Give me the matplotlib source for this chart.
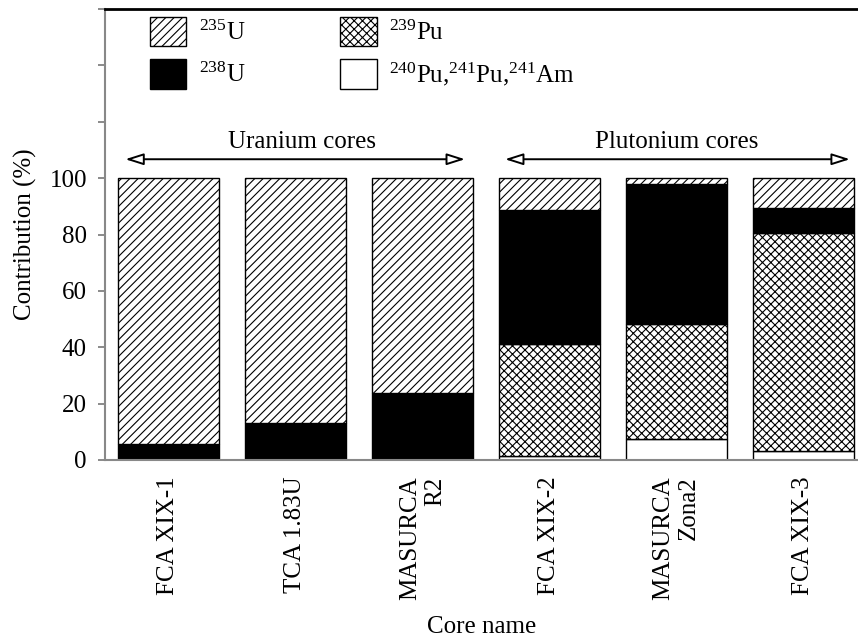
import matplotlib
matplotlib.use('Agg')
import matplotlib.pyplot as plt
from matplotlib.patches import Patch
import numpy as np

plt.rcParams['font.family'] = ['Liberation Serif', 'DejaVu Serif']
plt.rcParams['mathtext.fontset'] = 'custom'
plt.rcParams['mathtext.rm'] = 'Liberation Serif'
plt.rcParams['mathtext.it'] = 'Liberation Serif:italic'
plt.rcParams['hatch.linewidth'] = 0.8

cores = ['FCA XIX-1', 'TCA 1.83U', 'MASURCA\nR2', 'FCA XIX-2', 'MASURCA\nZona2', 'FCA XIX-3']
# contributions (%) stacked from the bottom up
other = [0, 0, 0, 1.4, 7.3, 3.3]          # 240Pu, 241Pu, 241Am
pu239 = [0, 0, 0, 39.8, 41.0, 77.4]
u238 = [5.5, 13.3, 23.9, 47.4, 49.5, 8.8]
u235 = [94.5, 86.7, 76.1, 11.4, 2.2, 10.5]

yticks = [0, 20, 40, 60, 80, 100, 120, 140, 160]
ytick_labels = ['0', '20', '40', '60', '80', '100', '', '', '']

groups = ['Uranium cores', 'Plutonium cores']

fig = plt.figure(figsize=(8.58, 6.43), dpi=100)
ax = fig.add_axes([105 / 858, 1 - 460 / 643, 753 / 858, 451 / 643])

x = np.arange(len(cores))
w = 0.8
bottom = np.zeros(len(cores))
layers = [
    (other, dict(facecolor='white', hatch=None)),
    (pu239, dict(facecolor='white', hatch='xxxx')),
    (u238, dict(facecolor='black', hatch=None)),
    (u235, dict(facecolor='white', hatch='////')),
]
for vals, style in layers:
    vals = np.array(vals, dtype=float)
    ax.bar(x, vals, w, bottom=bottom, edgecolor='black', linewidth=1.0, **style)
    bottom += vals

ax.set_xlim(-0.5, 5.43)
ax.set_ylim(0, 160)
ax.set_yticks(yticks)
ax.set_yticklabels(ytick_labels, fontsize=18)
ax.set_xticks(x)
ax.set_xticklabels(cores, rotation=90, fontsize=18, va='top', ha='center',
                   multialignment='right')
ax.tick_params(axis='x', length=0, pad=12)
ax.tick_params(axis='y', length=5, width=1.2, color='#777777', pad=8)

ax.spines['right'].set_visible(False)
ax.spines['top'].set_color('black')
ax.spines['top'].set_linewidth(2)
ax.spines['top'].set_zorder(10)
for s in ['left', 'bottom']:
    ax.spines[s].set_color('#888888')
    ax.spines[s].set_linewidth(1.5)

ax.set_ylabel('Contribution (%)', fontsize=18, labelpad=9)
ax.set_xlabel('Core name', fontsize=18, labelpad=11)

# group arrows
arrow_spans = [(-0.34, 2.335), (2.65, 5.366)]
text_x = [1.05, 4.0]
for (x0, x1), tx, name in zip(arrow_spans, text_x, groups):
    ax.annotate('', xy=(x0, 106.7), xytext=(x1, 106.7),
                arrowprops=dict(arrowstyle='<|-|>,head_length=1.1,head_width=0.35',
                                facecolor='white', edgecolor='black', lw=1.4,
                                shrinkA=0, shrinkB=0))
    ax.text(tx, 110.8, name, ha='center', va='baseline', fontsize=18)

handles = [
    Patch(facecolor='white', edgecolor='black', hatch='////', label=r'$^{235}$U'),
    Patch(facecolor='black', edgecolor='black', label=r'$^{238}$U'),
    Patch(facecolor='white', edgecolor='black', hatch='xxxx', label=r'$^{239}$Pu'),
    Patch(facecolor='white', edgecolor='black',
          label=r'$^{240}$Pu,$^{241}$Pu,$^{241}$Am'),
]
ax.legend(handles=handles, ncol=2, loc='upper left', bbox_to_anchor=(0.06, 0.983),
          frameon=False, fontsize=18, handlelength=1.45, handleheight=1.45,
          handletextpad=0.5, labelspacing=0.5, columnspacing=3.8,
          borderpad=0, borderaxespad=0)

fig.savefig('out.png', dpi=100)
